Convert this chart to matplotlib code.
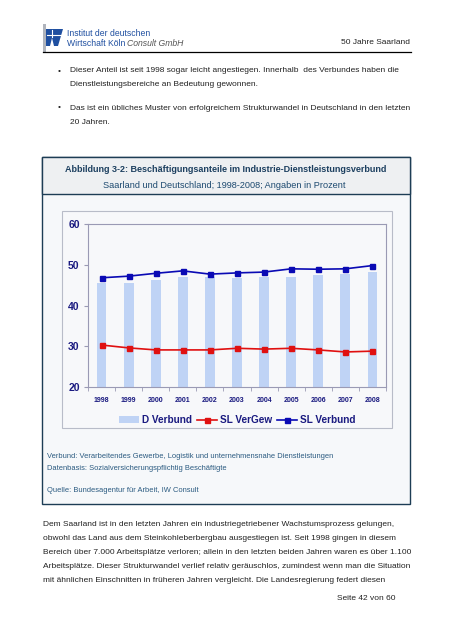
import matplotlib.pyplot as plt
from matplotlib.patches import Rectangle, Polygon
from matplotlib.lines import Line2D
from matplotlib.patches import Patch

plt.rcParams['font.family'] = ['Liberation Sans', 'DejaVu Sans']

W, H = 452, 640

years = ['1998', '1999', '2000', '2001', '2002', '2003', '2004', '2005', '2006', '2007', '2008']
d_verbund = [45.4, 45.4, 46.3, 47.1, 46.9, 46.7, 47.0, 47.1, 47.6, 47.8, 48.3]
sl_vergew = [30.3, 29.6, 29.1, 29.1, 29.1, 29.5, 29.3, 29.5, 29.1, 28.6, 28.8]
sl_verbund = [46.8, 47.2, 47.9, 48.5, 47.7, 48.0, 48.2, 49.0, 48.9, 49.0, 49.8]
yticks = [20, 30, 40, 50, 60]

bullets = [
    ["Dieser Anteil ist seit 1998 sogar leicht angestiegen. Innerhalb  des Verbundes haben die",
     "Dienstleistungsbereiche an Bedeutung gewonnen."],
    ["Das ist ein übliches Muster von erfolgreichem Strukturwandel in Deutschland in den letzten",
     "20 Jahren."],
]
body = [
    "Dem Saarland ist in den letzten Jahren ein industriegetriebener Wachstumsprozess gelungen,",
    "obwohl das Land aus dem Steinkohleberbergbau ausgestiegen ist. Seit 1998 gingen in diesem",
    "Bereich über 7.000 Arbeitsplätze verloren; allein in den letzten beiden Jahren waren es über 1.100",
    "Arbeitsplätze. Dieser Strukturwandel verlief relativ geräuschlos, zumindest wenn man die Situation",
    "mit ähnlichen Einschnitten in früheren Jahren vergleicht. Die Landesregierung federt diesen",
]
notes = [
    "Verbund: Verarbeitendes Gewerbe, Logistik und unternehmensnahe Dienstleistungen",
    "Datenbasis: Sozialversicherungspflichtig Beschäftigte",
]


def fx(x):
    return x / W


def fy(y):
    return 1 - y / H


def ptext(x, y, s, **kw):
    fig.text(fx(x), fy(y), s, va='center', **kw)


def prect(x0, y0, x1, y1, **kw):
    fig.patches.append(Rectangle((fx(x0), fy(y1)), fx(x1) - fx(x0), fy(y0) - fy(y1),
                                 transform=fig.transFigure, figure=fig, zorder=-1, **kw))


fig = plt.figure(figsize=(W / 100, H / 100), dpi=100)
fig.patch.set_facecolor('white')

# header with logo
prect(43, 24, 46, 52, facecolor='#b0b4bc', edgecolor='none')
logo = [(46, 29), (63, 29), (58, 46), (54, 46), (52, 38), (50, 46), (46, 46)]
fig.patches.append(Polygon([(fx(x), fy(y)) for x, y in logo], closed=True,
                           transform=fig.transFigure, facecolor='#1f4fa0', edgecolor='none'))
fig.add_artist(Line2D([fx(47), fx(62)], [fy(35), fy(35)], color='white', lw=0.8))
fig.add_artist(Line2D([fx(52), fx(52)], [fy(30), fy(37)], color='white', lw=0.8))
ptext(67, 33, "Institut der deutschen", fontsize=6.2, color='#1f4fa0')
ptext(67, 43, "Wirtschaft Köln", fontsize=6.2, color='#1f4fa0')
ptext(127, 43, "Consult GmbH", fontsize=6.2, color='#555555', style='italic')
ptext(410, 43, "50 Jahre Saarland", fontsize=6.0, color='#222222', ha='right')
fig.add_artist(Line2D([fx(43), fx(411)], [fy(52), fy(52)], color='black', lw=0.9))

# bullets
for i, lines in enumerate(bullets):
    y0 = 71 + i * 37
    ptext(58, y0, "•", fontsize=6.0, color='#222222')
    for j, line in enumerate(lines):
        ptext(70, y0 + j * 14, line, fontsize=6.05, color='#222222')

# figure box
prect(42, 157, 410, 504, facecolor='#f6f8fa', edgecolor='#1d3d55', lw=1.0)
prect(42, 157, 410, 194, facecolor='#eef0f2', edgecolor='#1d3d55', lw=1.0)
ptext(226, 169, "Abbildung 3-2: Beschäftigungsanteile im Industrie-Dienstleistungsverbund",
      fontsize=6.5, color='#1d4060', ha='center', weight='bold')
ptext(224, 185, "Saarland und Deutschland; 1998-2008; Angaben in Prozent",
      fontsize=6.6, color='#1d4a70', ha='center')

# chart frame
prect(62, 211, 392, 428, facecolor='#f7f8fa', edgecolor='#b8bcc8', lw=0.8)

ax = fig.add_axes([fx(88), fy(387), fx(386) - fx(88), fy(224) - fy(387)])
ax.set_zorder(2)
ax.set_facecolor('#f7f8fa')
x = list(range(len(years)))
ax.bar(x, d_verbund, width=0.36, color='#bfd3f5', label='D Verbund', zorder=1)
ax.plot(x, sl_vergew, color='#e01010', lw=1.2, marker='s', ms=3.6, label='SL VerGew', zorder=3)
ax.plot(x, sl_verbund, color='#0a0ab4', lw=1.2, marker='s', ms=3.6, label='SL Verbund', zorder=3)
ax.set_xlim(-0.5, len(years) - 0.5)
ax.set_ylim(20, 60)
ax.set_yticks(yticks)
ax.set_yticklabels([str(v) for v in yticks], fontsize=7.5, weight='bold', color='#1a1a80')
ax.set_xticks(x)
ax.set_xticklabels(years, fontsize=5, weight='bold', color='#1a1a80',
                   family=['Liberation Sans Narrow', 'Liberation Sans'])
ax.tick_params(axis='x', length=0, pad=7)
ax.set_xticks([i - 0.5 for i in range(len(years) + 1)], minor=True)
ax.tick_params(axis='x', which='minor', length=3, color='#9a9ab4')
ax.tick_params(axis='y', length=3, color='#9a9ab4', pad=3)
for s in ax.spines.values():
    s.set_color('#9a9ab4')
    s.set_linewidth(0.8)

handles = [Patch(facecolor='#bfd3f5', edgecolor='none'),
           Line2D([], [], color='#e01010', lw=1.2, marker='s', ms=3.6),
           Line2D([], [], color='#0a0ab4', lw=1.2, marker='s', ms=3.6)]
leg = fig.legend(handles, ['D Verbund', 'SL VerGew', 'SL Verbund'], loc='center',
                 bbox_to_anchor=(fx(237), fy(420)), ncol=3, frameon=False,
                 prop={'weight': 'bold', 'size': 7.2}, labelcolor='#1a1a80',
                 handlelength=2.0, handletextpad=0.3, columnspacing=0.5)
leg.set_zorder(3)

for i, n in enumerate(notes):
    ptext(47, 456 + i * 13, n, fontsize=5.45, color='#2a5a80')
ptext(47, 491, "Quelle: Bundesagentur für Arbeit, IW Consult", fontsize=5.45, color='#2a5a80')

for i, line in enumerate(body):
    ptext(43, 524 + i * 14, line, fontsize=6.05, color='#222222')
ptext(396, 599, "Seite 42 von 60", fontsize=6.05, color='#222222', ha='right')

fig.savefig('out.png', dpi=100)
